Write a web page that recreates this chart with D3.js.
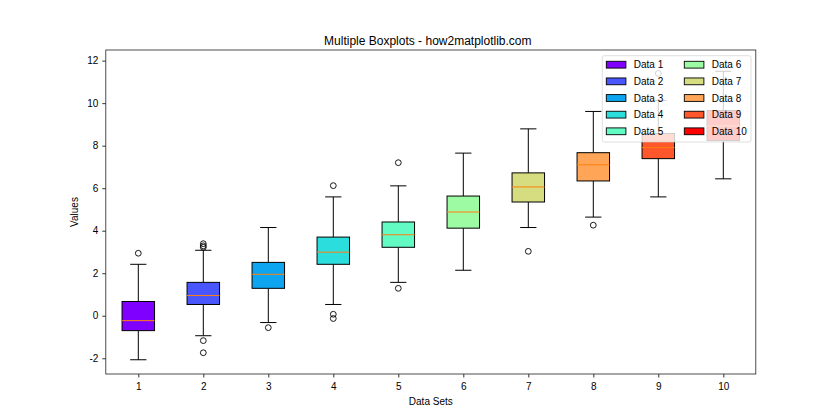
<!DOCTYPE html>
<html lang="en">
<head>
  <meta charset="UTF-8">
  <title>Multiple Boxplots</title>
  <script src="https://d3js.org/d3.v7.min.js"></script>
  <style>
    body {
      margin: 0;
      background-color: #ffffff;
    }
    svg text {
      font-family: "Liberation Sans", Arial, sans-serif;
      fill: #000;
    }
  </style>
</head>
<body>

<div id="chart"></div>

<script>
  // values
  var categories = ["1", "2", "3", "4", "5", "6", "7", "8", "9", "10"];
  var labels = ["Data 1", "Data 2", "Data 3", "Data 4", "Data 5",
                "Data 6", "Data 7", "Data 8", "Data 9", "Data 10"];
  var whiskLow = [-2.07, -0.94, -0.32, 0.53, 1.57, 2.14, 4.15, 4.64, 5.59, 6.44];
  var q1 = [-0.70, 0.53, 1.29, 2.42, 3.22, 4.12, 5.35, 6.34, 7.39, 8.24];
  var medians = [-0.23, 0.95, 1.95, 2.99, 3.81, 4.88, 6.06, 7.10, 7.91, 8.93];
  var q3 = [0.67, 1.57, 2.51, 3.70, 4.41, 5.63, 6.72, 7.67, 8.57, 9.65];
  var whiskHigh = [2.42, 3.08, 4.15, 5.59, 6.11, 7.65, 8.79, 9.61, 10.13, 11.50];
  var outliers = [
    [2.94],
    [3.39, 3.29, 3.22, -1.17, -1.74],
    [-0.56],
    [6.12, 0.07, -0.13],
    [7.20, 1.29],
    [],
    [3.03],
    [4.26],
    [11.40],
    []
  ];
  var colors = ["#8000ff", "#4856fb", "#0da5ef", "#2bdddd", "#62fbc4",
                "#9dfba4", "#d5dd80", "#ffa557", "#ff562c", "#ff0000"];
  var yTicks = [-2, 0, 2, 4, 6, 8, 10, 12];

  var width = 840, height = 420;
  var margin = {left: 105.8, right: 84.2, top: 50, bottom: 46};
  var plotW = width - margin.left - margin.right;
  var plotH = height - margin.top - margin.bottom;

  var svg = d3.select("#chart")
    .append("svg")
    .attr("width", width)
    .attr("height", height);

  var g = svg.append("g")
    .attr("transform", "translate(" + margin.left + "," + margin.top + ")");

  var x = d3.scaleLinear().domain([0.5, 10.5]).range([0, plotW]);
  var y = d3.scaleLinear().domain([-2.74, 12.5]).range([plotH, 0]);

  var boxW = x(1.25) - x(1);   // half of the box width
  var capW = boxW / 2;

  var rows = categories.map(function(c, i) {
    return {pos: i + 1, lo: whiskLow[i], q1: q1[i], med: medians[i],
            q3: q3[i], hi: whiskHigh[i], out: outliers[i], color: colors[i]};
  });

  var box = g.selectAll(".box")
    .data(rows)
    .enter().append("g")
    .attr("class", "box");

  // whiskers
  box.append("line")
    .attr("x1", function(d) { return x(d.pos); })
    .attr("x2", function(d) { return x(d.pos); })
    .attr("y1", function(d) { return y(d.lo); })
    .attr("y2", function(d) { return y(d.q1); })
    .attr("stroke", "#000").attr("stroke-width", 1);
  box.append("line")
    .attr("x1", function(d) { return x(d.pos); })
    .attr("x2", function(d) { return x(d.pos); })
    .attr("y1", function(d) { return y(d.q3); })
    .attr("y2", function(d) { return y(d.hi); })
    .attr("stroke", "#000").attr("stroke-width", 1);

  // caps
  ["lo", "hi"].forEach(function(k) {
    box.append("line")
      .attr("x1", function(d) { return x(d.pos) - capW; })
      .attr("x2", function(d) { return x(d.pos) + capW; })
      .attr("y1", function(d) { return y(d[k]); })
      .attr("y2", function(d) { return y(d[k]); })
      .attr("stroke", "#000").attr("stroke-width", 1);
  });

  // boxes
  box.append("rect")
    .attr("x", function(d) { return x(d.pos) - boxW; })
    .attr("width", boxW * 2)
    .attr("y", function(d) { return y(d.q3); })
    .attr("height", function(d) { return y(d.q1) - y(d.q3); })
    .attr("fill", function(d) { return d.color; })
    .attr("stroke", "#000").attr("stroke-width", 1);

  // medians
  box.append("line")
    .attr("x1", function(d) { return x(d.pos) - boxW; })
    .attr("x2", function(d) { return x(d.pos) + boxW; })
    .attr("y1", function(d) { return y(d.med); })
    .attr("y2", function(d) { return y(d.med); })
    .attr("stroke", "#ff7f0e").attr("stroke-width", 1);

  // fliers
  box.selectAll("circle")
    .data(function(d) { return d.out.map(function(v) { return {pos: d.pos, v: v}; }); })
    .enter().append("circle")
    .attr("cx", function(d) { return x(d.pos); })
    .attr("cy", function(d) { return y(d.v); })
    .attr("r", 2.9)
    .attr("fill", "none")
    .attr("stroke", "#000").attr("stroke-width", 0.9);

  // axes
  var xAxis = g.append("g")
    .attr("transform", "translate(0," + plotH + ")")
    .call(d3.axisBottom(x).tickValues(d3.range(1, 11)).tickFormat(function(d) { return categories[d - 1]; })
      .tickSizeOuter(0).tickSize(3.5).tickPadding(5));
  var yAxis = g.append("g")
    .call(d3.axisLeft(y).tickValues(yTicks).tickFormat(function(d) { return d; })
      .tickSizeOuter(0).tickSize(3.5).tickPadding(4));
  [xAxis, yAxis].forEach(function(a) {
    a.select(".domain").remove();
    a.selectAll("line").attr("stroke", "#000").attr("stroke-width", 0.8);
    a.selectAll("text").attr("font-size", "10px")
      .attr("font-family", "'Liberation Sans', Arial, sans-serif");
  });
  yAxis.selectAll("text").text(function(d) { return d < 0 ? "-" + Math.abs(d) : d; });

  // frame
  g.append("rect")
    .attr("width", plotW).attr("height", plotH)
    .attr("fill", "none").attr("stroke", "#222").attr("stroke-width", 0.8);

  // titles
  svg.append("text")
    .attr("x", margin.left + plotW / 2 - 3).attr("y", 45)
    .attr("text-anchor", "middle").attr("font-size", "12px")
    .text("Multiple Boxplots - how2matplotlib.com");
  svg.append("text")
    .attr("x", margin.left + plotW / 2).attr("y", 405)
    .attr("text-anchor", "middle").attr("font-size", "10px")
    .text("Data Sets");
  svg.append("text")
    .attr("transform", "translate(78," + (margin.top + plotH / 2) + ") rotate(-90)")
    .attr("text-anchor", "middle").attr("font-size", "10px")
    .text("Values");

  // legend
  var legend = svg.append("g").attr("transform", "translate(602.3,55.7)");
  legend.append("rect")
    .attr("width", 148.7).attr("height", 86.3).attr("rx", 2)
    .attr("fill", "#fff").attr("fill-opacity", 0.8)
    .attr("stroke", "#ccc").attr("stroke-opacity", 0.8).attr("stroke-width", 0.8);
  var item = legend.selectAll(".item")
    .data(labels)
    .enter().append("g")
    .attr("class", "item")
    .attr("transform", function(d, i) {
      return "translate(" + (i < 5 ? 4 : 82) + "," + (9 + (i % 5) * 16.65) + ")";
    });
  item.append("rect")
    .attr("x", 0).attr("y", -3.4).attr("width", 19.6).attr("height", 6.8)
    .attr("fill", function(d, i) { return colors[i]; })
    .attr("stroke", "#000").attr("stroke-width", 0.9);
  item.append("text")
    .attr("x", 27.5).attr("y", 3.6)
    .attr("font-size", "10px")
    .text(function(d) { return d; });
</script>

</body>
</html>
